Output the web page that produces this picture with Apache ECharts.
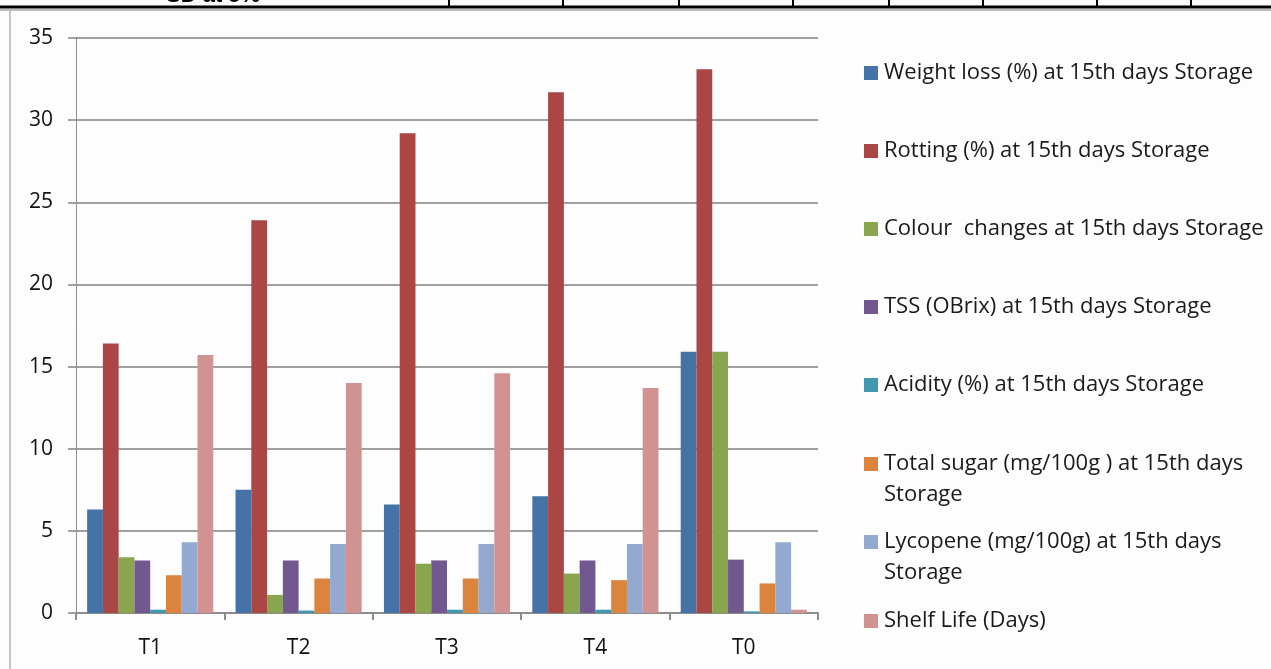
<!DOCTYPE html>
<html>
<head>
<meta charset="utf-8">
<script src="https://cdn.jsdelivr.net/npm/echarts@6/dist/echarts.min.js"></script>
<style>
  html, body { margin: 0; padding: 0; background: #fdfdfd; }
  #chart { width: 1271px; height: 669px; }
</style>
</head>
<body>
<div id="chart"></div>
<script>
var categories = ['T1', 'T2', 'T3', 'T4', 'T0'];
var seriesNames = [
    'Weight loss (%) at 15th days Storage',
    'Rotting (%) at 15th days Storage',
    'Colour  changes at 15th days Storage',
    'TSS (OBrix) at 15th days Storage',
    'Acidity (%) at 15th days Storage',
    'Total sugar (mg/100g ) at 15th days\nStorage',
    'Lycopene (mg/100g) at 15th days\nStorage',
    'Shelf Life (Days)'
];
var weightLoss = [6.3, 7.5, 6.6, 7.1, 15.9];
var rotting = [16.4, 23.9, 29.2, 31.7, 33.1];
var colourChanges = [3.4, 1.1, 3.0, 2.4, 15.9];
var tss = [3.2, 3.2, 3.2, 3.2, 3.25];
var acidity = [0.2, 0.15, 0.2, 0.2, 0.1];
var totalSugar = [2.3, 2.1, 2.1, 2.0, 1.8];
var lycopene = [4.3, 4.2, 4.2, 4.2, 4.3];
var shelfLife = [15.7, 14.0, 14.6, 13.7, 0.2];
var yTicks = [0, 5, 10, 15, 20, 25, 30, 35];

var seriesData = [weightLoss, rotting, colourChanges, tss, acidity, totalSugar, lycopene, shelfLife];
var colors = ['#4572A7', '#AA4643', '#89A54E', '#71588F', '#4198AF', '#DB843D', '#93A9CF', '#D19392'];
var font = 'Open Sans';
var lineH = 31;

// centre of the first text line of each legend entry
var legendCentres = [68, 146, 224, 302, 380, 459, 537, 616];

var series = [];
var legends = [];
for (var i = 0; i < seriesNames.length; i++) {
    series.push({
        name: seriesNames[i],
        type: 'bar',
        data: seriesData[i],
        barGap: '0%',
        barCategoryGap: '15%',
        itemStyle: { color: colors[i] }
    });
    var twoLines = seriesNames[i].indexOf('\n') >= 0;
    // for two-line entries the square sits next to the first line
    var iconH = twoLines ? 2 * lineH - 17 : 14;
    legends.push({
        orient: 'vertical',
        left: 859,
        top: legendCentres[i] - lineH / 2,
        itemWidth: 14,
        itemHeight: iconH,
        selectedMode: false,
        icon: twoLines ? 'path://M0,0H14V14H0Z M0,' + iconH + 'h0.01v0.01h-0.01Z' : 'rect',
        data: [seriesNames[i]],
        textStyle: {
            fontFamily: font,
            fontSize: 22,
            color: '#1a1a1a',
            lineHeight: lineH,
            padding: [0, 0, 0, 1]
        }
    });
}

var chart = echarts.init(document.getElementById('chart'));
var option = {
    backgroundColor: '#fdfdfd',
    animation: false,
    color: colors,
    grid: { left: 76, right: 453, top: 38, bottom: 56 },
    legend: legends,
    xAxis: {
        type: 'category',
        data: categories,
        axisLine: { lineStyle: { color: '#8c8c8c', width: 2 } },
        axisTick: { show: true, length: 7, lineStyle: { color: '#8c8c8c', width: 2 } },
        axisLabel: { margin: 25, fontFamily: font, fontSize: 21, color: '#111' }
    },
    yAxis: {
        type: 'value',
        min: yTicks[0],
        max: yTicks[yTicks.length - 1],
        interval: yTicks[1] - yTicks[0],
        axisLine: { show: true, lineStyle: { color: '#8c8c8c', width: 1 } },
        axisTick: { show: true, length: 8, lineStyle: { color: '#a0a0a0', width: 2 } },
        axisLabel: { margin: 23, fontFamily: font, fontSize: 21, color: '#111' },
        splitLine: { lineStyle: { color: '#a0a0a0', width: 2 } }
    },
    graphic: [
        { type: 'text', x: 166, y: -15, style: { text: 'SD at 5%', font: 'bold 22px Liberation Sans', fill: '#000' } },
        { type: 'rect', shape: { x: 0, y: 5, width: 1271, height: 8 }, style: { fill: '#fdfdfd' } },
        { type: 'line', shape: { x1: 0, y1: 7, x2: 1271, y2: 7 }, style: { stroke: '#000', lineWidth: 3 } },
        { type: 'line', shape: { x1: 0, y1: 10, x2: 1271, y2: 10 }, style: { stroke: '#bbb', lineWidth: 2 } },
        { type: 'line', shape: { x1: 10, y1: 11, x2: 10, y2: 669 }, style: { stroke: '#c4c4c4', lineWidth: 2 } },
        { type: 'line', shape: { x1: 449, y1: 0, x2: 449, y2: 7 }, style: { stroke: '#000', lineWidth: 2 } },
        { type: 'line', shape: { x1: 563, y1: 0, x2: 563, y2: 7 }, style: { stroke: '#000', lineWidth: 2 } },
        { type: 'line', shape: { x1: 679, y1: 0, x2: 679, y2: 7 }, style: { stroke: '#000', lineWidth: 2 } },
        { type: 'line', shape: { x1: 793, y1: 0, x2: 793, y2: 7 }, style: { stroke: '#000', lineWidth: 2 } },
        { type: 'line', shape: { x1: 889, y1: 0, x2: 889, y2: 7 }, style: { stroke: '#000', lineWidth: 2 } },
        { type: 'line', shape: { x1: 983, y1: 0, x2: 983, y2: 7 }, style: { stroke: '#000', lineWidth: 2 } },
        { type: 'line', shape: { x1: 1097, y1: 0, x2: 1097, y2: 7 }, style: { stroke: '#000', lineWidth: 2 } },
        { type: 'line', shape: { x1: 1191, y1: 0, x2: 1191, y2: 7 }, style: { stroke: '#000', lineWidth: 2 } }
    ],
    series: series
};
chart.setOption(option);
</script>
</body>
</html>
